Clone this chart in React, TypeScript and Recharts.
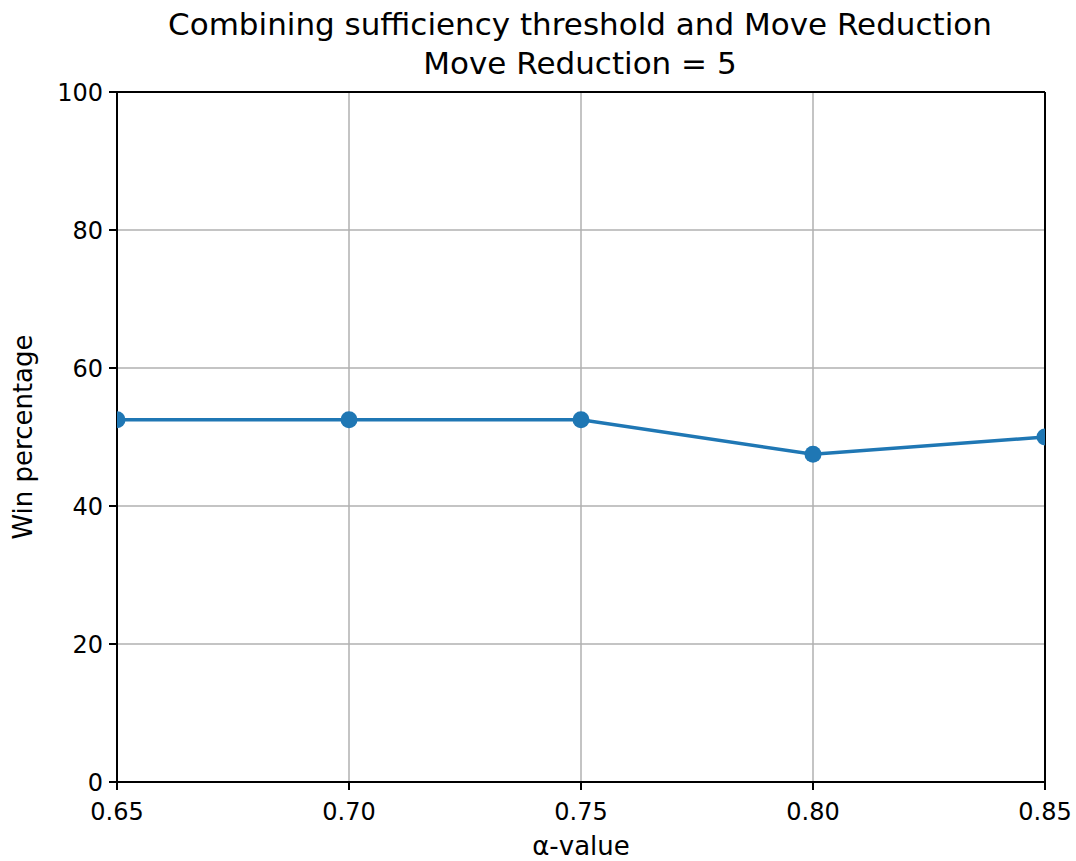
import React from 'react';
import {
  LineChart,
  Line,
  XAxis,
  YAxis,
  CartesianGrid,
  ReferenceLine
} from 'recharts';

const alphaValues = [0.65, 0.7, 0.75, 0.8, 0.85];
const winPercentages = [52.5, 52.5, 52.5, 47.5, 50];
const xTicks = [0.65, 0.7, 0.75, 0.8, 0.85];
const yTicks = [0, 20, 40, 60, 80, 100];

const data = alphaValues.map((a, i) => ({ alpha: a, win: winPercentages[i] }));

const FONT = '"DejaVu Sans", sans-serif';
const tickStyle = { fontSize: 24, fill: '#000', fontFamily: FONT };

export default function App() {
  return (
    <div style={{ position: 'absolute', left: 0, top: 0, width: 1076, height: 861, background: '#fff', fontFamily: FONT }}>
      <LineChart
        width={1076}
        height={861}
        data={data}
        margin={{ top: 92, right: 31, left: 17, bottom: 49 }}
      >
        <CartesianGrid stroke="#b0b0b0" strokeWidth={1.5} />
        <XAxis
          dataKey="alpha"
          type="number"
          domain={[0.65, 0.85]}
          ticks={xTicks}
          tickFormatter={(v: number) => v.toFixed(2)}
          allowDataOverflow
          height={30}
          tick={tickStyle}
          tickSize={8}
          tickMargin={13}
          stroke="#000"
          axisLine={{ stroke: '#000', strokeWidth: 2 }}
          tickLine={{ stroke: '#000', strokeWidth: 2 }}
        />
        <YAxis
          type="number"
          domain={[0, 100]}
          ticks={yTicks}
          allowDataOverflow
          width={100}
          tick={tickStyle}
          tickSize={8}
          tickMargin={6}
          stroke="#000"
          axisLine={{ stroke: '#000', strokeWidth: 2 }}
          tickLine={{ stroke: '#000', strokeWidth: 2 }}
        />
        {/* top and right frame */}
        <ReferenceLine y={100} stroke="#000" strokeWidth={2} />
        <ReferenceLine x={0.85} stroke="#000" strokeWidth={2} />
        <Line
          type="linear"
          dataKey="win"
          stroke="#1f77b4"
          strokeWidth={3.5}
          dot={{ r: 8.5, fill: '#1f77b4', stroke: '#1f77b4', strokeWidth: 0 }}
          activeDot={false}
          isAnimationActive={false}
        />
      </LineChart>
      <div style={{ position: 'absolute', left: 0, width: 1160, top: 5, textAlign: 'center', fontSize: 31, lineHeight: '39px', color: '#000' }}>
        <div>Combining sufficiency threshold and Move Reduction</div>
        <div>Move Reduction = 5</div>
      </div>
      <div style={{ position: 'absolute', left: 117, width: 928, top: 831, textAlign: 'center', fontSize: 26, lineHeight: '30px', color: '#000' }}>
        α-value
      </div>
      <div style={{ position: 'absolute', left: 23 - 150, top: 437 - 15, width: 300, height: 30, lineHeight: '30px', textAlign: 'center', fontSize: 26, color: '#000', transform: 'rotate(-90deg)' }}>
        Win percentage
      </div>
    </div>
  );
}
